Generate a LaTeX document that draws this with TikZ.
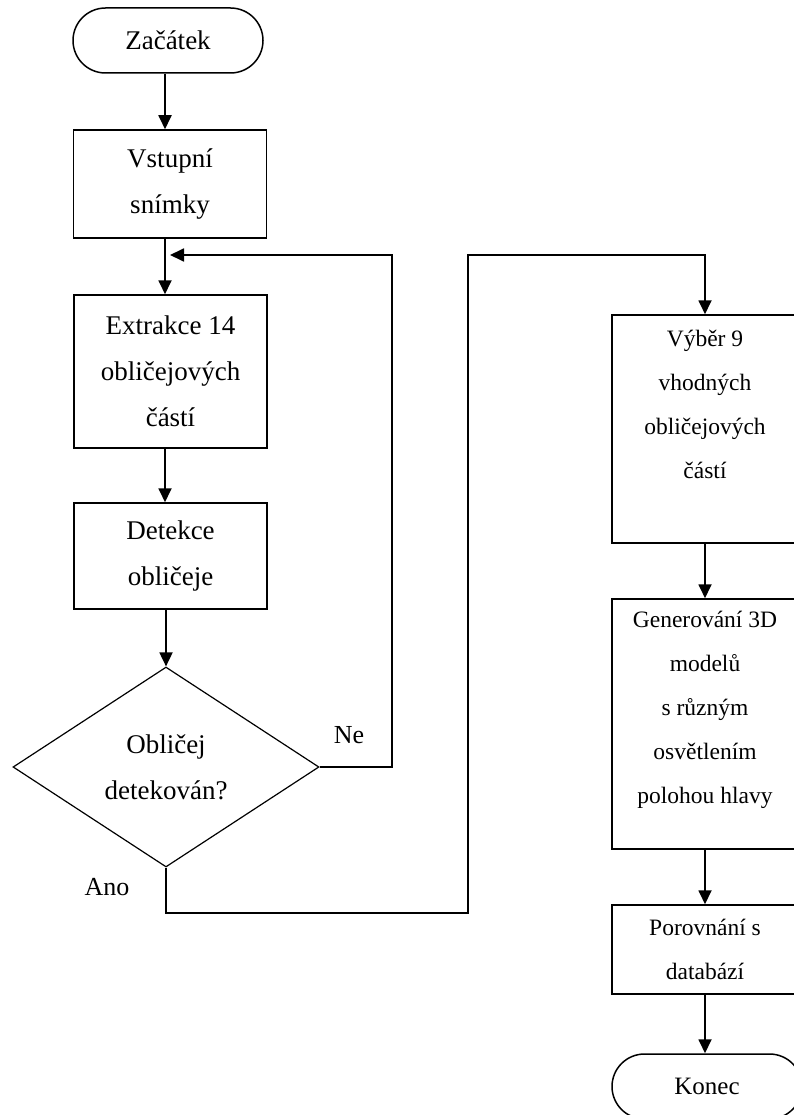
\documentclass[tikz,border=0pt]{standalone}
\usepackage{fontspec}
\setmainfont{Liberation Serif}
\usetikzlibrary{shapes.geometric,arrows.meta}
\begin{document}
\begin{tikzpicture}[x=1pt,y=-1pt,
  box/.style={draw, line width=1.5pt, rectangle, inner sep=0pt, align=center},
  leftbox/.style={box, minimum width=193pt, font=\fontsize{27}{46}\selectfont},
  rightbox/.style={box, minimum width=186pt},
  rtext/.style={align=center, inner sep=0pt, font=\fontsize{23.5}{44}\selectfont},
  terminal/.style={draw, line width=1.5pt, rectangle, rounded corners=32.5pt,
    minimum width=190pt, minimum height=65pt, inner sep=0pt},
  decision/.style={draw, line width=1.2pt, diamond, aspect=1.53,
    minimum width=306pt, minimum height=200pt, inner sep=0pt, align=center,
    font=\fontsize{27}{46}\selectfont},
  flow/.style={line width=1.8pt, -{Triangle[length=14pt,width=13pt]}},
  lbl/.style={inner sep=0pt, font=\fontsize{26}{30}\selectfont}]

\useasboundingbox (0,0) rectangle (794,1115);
\clip (0,0) rectangle (794,1115);

% left column
\node[terminal, font=\fontsize{27}{30}\selectfont] (start) at (168,40.5) {Začátek};
\node[leftbox, minimum height=108pt] (in) at (170,184) {Vstupní\\snímky};
\node[leftbox, minimum height=153pt] (ext) at (170.5,371.5) {Extrakce 14\\obličejových\\částí};
\node[leftbox, minimum height=106pt] (det) at (170.5,556) {Detekce\\obličeje};
\node[decision] (dec) at (166,767) {Obličej\\detekován?};

% right column
\node[rightbox, minimum height=228pt] (sel) at (705,429) {};
\node[rtext] (selt) at (705,404) {Výběr 9\\vhodných\\obličejových\\částí};
\node[rightbox, minimum height=250pt] (gen) at (705,724) {};
\node[rtext] (gent) at (705,710) {Generování 3D\\modelů\\s různým\\osvětlením\\polohou hlavy};
\node[rightbox, minimum height=89pt, rtext, draw, line width=1.5pt] (cmp) at (705,949.5) {Porovnání s\\databází};
\node[terminal, font=\fontsize{25}{30}\selectfont] (end) at (707,1086.5) {Konec};

% branch labels
\node[lbl] (ne) at (349,735) {Ne};
\node[lbl] (ano) at (107,887) {Ano};

% routing points
\coordinate (spine) at (165,0);
\coordinate (loop) at (392,255);
\coordinate (join) at (170,255);
\coordinate (ya) at (468,913);
\coordinate (yb) at (705,255);

% connectors
\draw[flow] (start.south -| spine) -- (in.north -| spine);
\draw[flow] (in.south -| spine) -- (ext.north -| spine);
\draw[flow] (ext.south -| spine) -- (det.north -| spine);
\draw[flow] (det.south -| dec.north) -- (dec.north);
\draw[flow] (dec.east) -| (loop) -- (join);
\draw[flow] (dec.south) |- (ya) |- (yb) -- (sel.north);
\draw[flow] (sel.south) -- (gen.north);
\draw[flow] (gen.south) -- (cmp.north);
\draw[flow] (cmp.south) -- (cmp.south |- end.north);

\end{tikzpicture}
\end{document}
